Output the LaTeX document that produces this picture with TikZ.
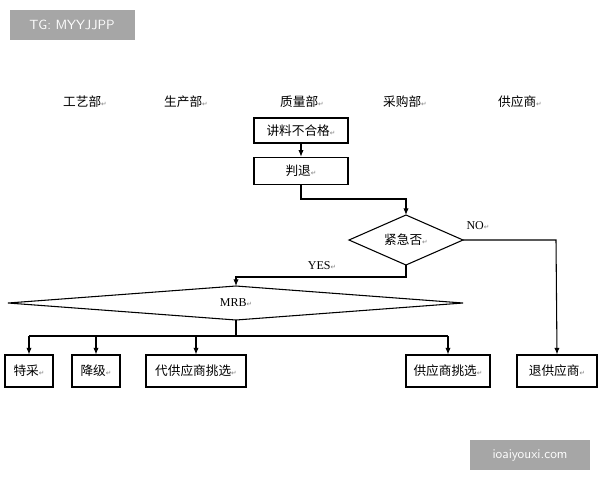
\documentclass[tikz,border=0pt]{standalone}
\usepackage{fontspec}
\setmainfont{Liberation Serif}
\newfontfamily\cjk{Noto Sans CJK SC}
\newfontfamily\dv{DejaVu Sans}
\usetikzlibrary{arrows.meta}
\newcommand{\rt}{{\dv\fontsize{5}{5}\selectfont\color{gray}↵}}
\begin{document}
\begin{tikzpicture}[x=0.75pt,y=-0.75pt,
  box/.style={draw,thick,minimum height=27.5*0.75pt,inner sep=0pt,font=\cjk\fontsize{9.5}{10}\selectfont},
  hd/.style={font=\cjk\fontsize{9.5}{10}\selectfont},
  lbl/.style={font=\fontsize{9}{10}\selectfont},
  arr/.style={thick,-{Latex[length=5pt,width=4pt]}},
  ln/.style={thick}]
\useasboundingbox (0,0) rectangle (600,480);
\fill[white] (0,0) rectangle (600,480);
% watermarks
\node[fill=gray!70,text=white,minimum width=125*0.75pt,minimum height=30*0.75pt,font=\sffamily\fontsize{10}{10}\selectfont] (wm1) at (72,25) {TG: MYYJJPP};
\node[fill=gray!70,text=white,minimum width=120*0.75pt,minimum height=30*0.75pt,font=\sffamily\fontsize{10}{10}\selectfont] (wm2) at (530,455) {ioaiyouxi.com};
% headers
\node[hd] (h1) at (85,102) {工艺部\rt};
\node[hd] (h2) at (186,102) {生产部\rt};
\node[hd] (h3) at (302,102) {质量部\rt};
\node[hd] (h4) at (405,102) {采购部\rt};
\node[hd] (h5) at (520,102) {供应商\rt};
% boxes
\node[box,minimum width=94*0.75pt,minimum height=25*0.75pt] (b1) at (301,130.5) {讲料不合格\rt};
\node[box,minimum width=94*0.75pt] (b2) at (301,171) {判退\rt};
\draw[thick] (349,240) -- (406,215) -- (463,240) -- (406,265) -- cycle;
\node[hd] (d1) at (406,240) {紧急否\rt};
\coordinate (d1t) at (406,215); \coordinate (d1r) at (463,240); \coordinate (d1b) at (406,265);
\draw[thick] (8,303) -- (236,286) -- (463,303) -- (236,320) -- cycle;
\node[lbl] (d2) at (236,303) {MRB\rt};
\coordinate (d2t) at (236,286); \coordinate (d2b) at (236,320);
\node[box,minimum width=48*0.75pt,minimum height=32*0.75pt] (c1) at (29,371) {特采\rt};
\node[box,minimum width=48*0.75pt,minimum height=32*0.75pt] (c2) at (96,371) {降级\rt};
\node[box,minimum width=100*0.75pt,minimum height=32*0.75pt] (c3) at (196,371) {代供应商挑选\rt};
\node[box,minimum width=84*0.75pt,minimum height=32*0.75pt] (c4) at (448,371) {供应商挑选\rt};
\node[box,minimum width=80*0.75pt,minimum height=32*0.75pt] (c5) at (557,371) {退供应商\rt};
% connectors
\draw[arr] (b1) -- (b2);
\draw[arr] (b2.south) |- (406,199) -- (d1t);
\draw[arr] (d1r) -- (556,240) -- (c5.north);
\node[lbl] (no) at (478,226) {NO\rt};
\draw[arr] (d1b) |- (236,277) -- (d2t);
\node[lbl] (yes) at (322,266) {YES\rt};
\draw[ln] (d2b) -- (236,336);
\draw[ln] (29,336) -- (448,336);
\draw[arr] (29,336) -- (c1.north);
\draw[arr] (96,336) -- (c2.north);
\draw[arr] (196,336) -- (c3.north);
\draw[arr] (448,336) -- (c4.north);
\end{tikzpicture}
\end{document}
